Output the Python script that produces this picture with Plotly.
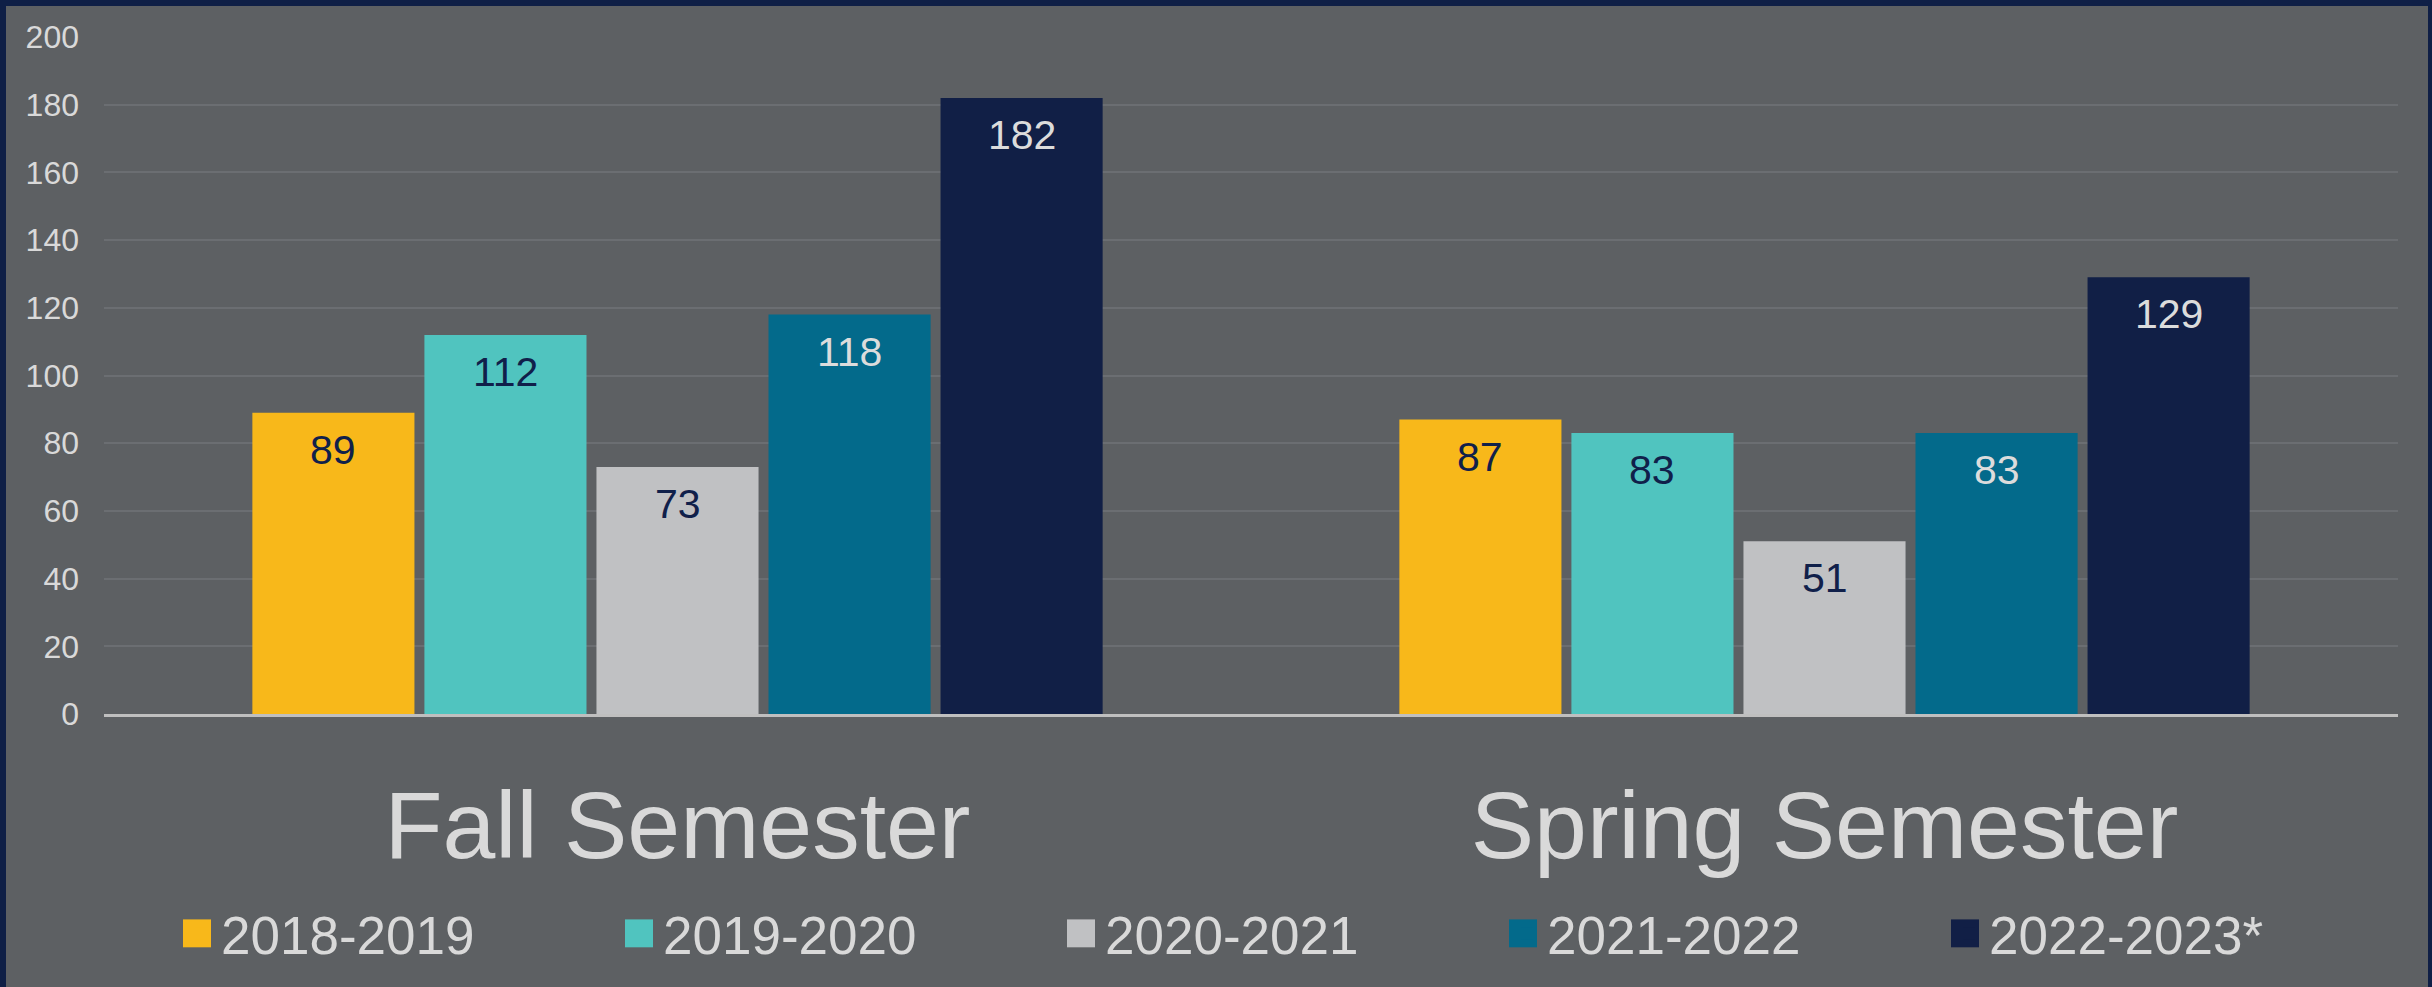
import plotly.graph_objects as go

categories = ["Fall Semester", "Spring Semester"]
series_names = ["2018-2019", "2019-2020", "2020-2021", "2021-2022", "2022-2023*"]
values_2018_2019 = [89, 87]
values_2019_2020 = [112, 83]
values_2020_2021 = [73, 51]
values_2021_2022 = [118, 83]
values_2022_2023 = [182, 129]
y_ticks = [0, 20, 40, 60, 80, 100, 120, 140, 160, 180, 200]

all_values = [values_2018_2019, values_2019_2020, values_2020_2021, values_2021_2022, values_2022_2023]
bar_colors = ["#f8b81a", "#50c4bf", "#c0c1c3", "#036a8b", "#111f46"]
label_colors = ["#10204a", "#10204a", "#10204a", "#dcdcdc", "#dcdcdc"]

FONT = "Liberation Sans, Arial, sans-serif"
W, H = 2432, 987
ML, MR, MT, MB = 104, 34, 37, 271
PW = W - ML - MR
PH = H - MT - MB
BARGAP = 0.25
GROUPGAP = 0.058
cat_px = PW / len(categories)
slot_px = cat_px * (1 - BARGAP) / len(series_names)

LEG_LEFT = 181
LEG_PITCH = 442
LEG_Y = 936
LEG_SYM = 28


def px_to_paper_x(px):
    return (px - ML) / PW


def px_to_paper_y(py):
    return (H - MB - py) / PH


fig = go.Figure()
for i, (name, vals) in enumerate(zip(series_names, all_values)):
    fig.add_trace(go.Bar(
        name=name, x=categories, y=vals,
        marker=dict(color=bar_colors[i], line=dict(width=0)),
        hoverinfo="skip",
    ))

annotations = []
for i, vals in enumerate(all_values):
    for c, v in zip(categories, vals):
        annotations.append(dict(
            x=c, y=v, xref="x", yref="y", text=str(v), showarrow=False,
            xshift=(i - (len(series_names) - 1) / 2) * slot_px, yshift=-37,
            yanchor="middle", xanchor="center",
            font=dict(family=FONT, size=41, color=label_colors[i]),
        ))

shapes = [dict(
    type="rect", xref="paper", yref="paper", layer="below",
    x0=px_to_paper_x(6), x1=px_to_paper_x(2428),
    y0=px_to_paper_y(1005), y1=px_to_paper_y(6),
    fillcolor="#5d6063", line=dict(width=0),
)]
# enlarged legend swatches over plotly's small legend symbols
for i, col in enumerate(bar_colors):
    cx = LEG_LEFT + 16 + i * LEG_PITCH
    shapes.append(dict(
        type="rect", xref="paper", yref="paper", layer="above",
        x0=px_to_paper_x(cx - LEG_SYM / 2), x1=px_to_paper_x(cx + LEG_SYM / 2),
        y0=px_to_paper_y(LEG_Y + LEG_SYM / 2), y1=px_to_paper_y(LEG_Y - LEG_SYM / 2),
        fillcolor=col, line=dict(width=0),
    ))

fig.update_layout(
    width=W, height=H,
    margin=dict(l=ML, r=MR, t=MT, b=MB, pad=0),
    paper_bgcolor="#0f1f46",
    plot_bgcolor="rgba(0,0,0,0)",
    barmode="group", bargap=BARGAP, bargroupgap=GROUPGAP,
    font=dict(family=FONT, color="#d9d9d9"),
    showlegend=True,
    legend=dict(
        orientation="h", x=px_to_paper_x(LEG_LEFT), xanchor="left",
        y=px_to_paper_y(LEG_Y), yanchor="middle",
        font=dict(family=FONT, size=53, color="#d9d9d9"),
        entrywidth=LEG_PITCH - 45, entrywidthmode="pixels",
        bgcolor="rgba(0,0,0,0)", borderwidth=0,
        traceorder="normal", itemclick=False, itemdoubleclick=False,
    ),
    annotations=annotations,
    shapes=shapes,
    xaxis=dict(
        type="category", showgrid=False, zeroline=False,
        showline=True, linecolor="#bfbfbf", linewidth=2.5,
        ticks="", tickfont=dict(family=FONT, size=95, color="#d9d9d9"),
        ticklabelstandoff=27, fixedrange=True,
    ),
    yaxis=dict(
        range=[0, 200], tickvals=y_ticks, showgrid=True,
        gridcolor="#6b6e72", gridwidth=1.5, zeroline=False,
        showline=False, ticks="",
        tickfont=dict(family=FONT, size=32, color="#d9d9d9"),
        ticklabelstandoff=24, fixedrange=True,
    ),
)

fig.write_html(
    "out.html",
    config={"displayModeBar": False},
    post_script="document.body.style.margin='0';document.body.style.padding='0';",
)
